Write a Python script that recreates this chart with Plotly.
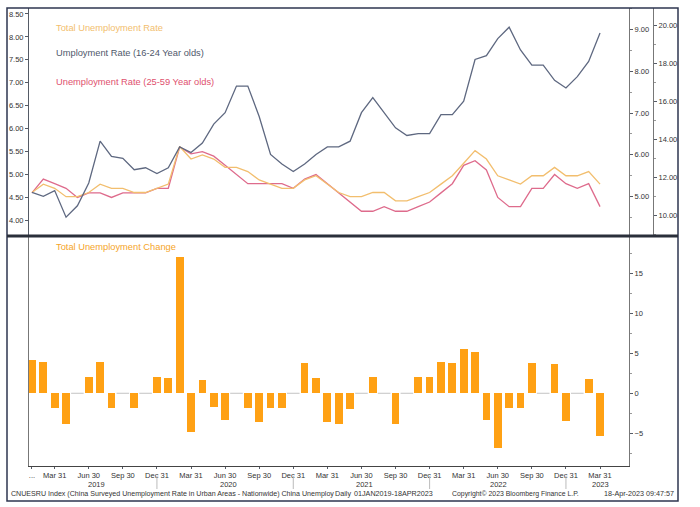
import plotly.graph_objects as go
import pandas as pd

# ---------------- data ----------------
months = [d.strftime("%b %Y") for d in pd.date_range("2019-01-31", "2023-03-31", freq="ME")]

total_rate = [5.1, 5.3, 5.2, 5.0, 5.0, 5.1, 5.3, 5.2, 5.2, 5.1, 5.1, 5.2,
              5.3, 6.2, 5.9, 6.0, 5.9, 5.7, 5.7, 5.6, 5.4, 5.3, 5.2, 5.2,
              5.4, 5.5, 5.3, 5.1, 5.0, 5.0, 5.1, 5.1, 4.9, 4.9, 5.0, 5.1,
              5.3, 5.5, 5.8, 6.1, 5.9, 5.5, 5.4, 5.3, 5.5, 5.5, 5.7, 5.5,
              5.5, 5.6, 5.3]

youth_rate = [11.2, 11.0, 11.3, 9.9, 10.5, 11.7, 13.9, 13.1, 13.0, 12.4, 12.5, 12.2,
              12.5, 13.6, 13.3, 13.8, 14.8, 15.4, 16.8, 16.8, 15.2, 13.2, 12.7, 12.3,
              12.7, 13.2, 13.6, 13.6, 13.9, 15.4, 16.2, 15.4, 14.6, 14.2, 14.3, 14.3,
              15.3, 15.3, 16.0, 18.2, 18.4, 19.3, 19.9, 18.7, 17.9, 17.9, 17.1, 16.7,
              17.3, 18.1, 19.6]

rate_25_59 = [4.6, 4.9, 4.8, 4.7, 4.5, 4.6, 4.6, 4.5, 4.6, 4.6, 4.6, 4.7,
              4.7, 5.6, 5.45, 5.5, 5.4, 5.2, 5.0, 4.8, 4.8, 4.8, 4.8, 4.7,
              4.9, 5.0, 4.8, 4.6, 4.4, 4.2, 4.2, 4.3, 4.2, 4.2, 4.3, 4.4,
              4.6, 4.8, 5.2, 5.3, 5.1, 4.5, 4.3, 4.3, 4.7, 4.7, 5.0, 4.8,
              4.7, 4.8, 4.3]

total_change = [4.1, 3.9, -1.9, -3.8, 0, 2.0, 3.9, -1.9, 0, -1.9, 0, 2.0,
                1.9, 17.0, -4.8, 1.7, -1.7, -3.4, 0, -1.8, -3.6, -1.9, -1.9, 0,
                3.8, 1.9, -3.6, -3.8, -2.0, 0, 2.0, 0, -3.9, 0, 2.0, 2.0,
                3.9, 3.8, 5.5, 5.2, -3.3, -6.8, -1.8, -1.9, 3.8, 0, 3.6, -3.5,
                0, 1.8, -5.4]

tick_months = [months[0]] + [m for m in months if m[:3] in ("Mar", "Jun", "Sep", "Dec")]
tick_labels = ["..."] + [{"Mar": "Mar 31", "Jun": "Jun 30", "Sep": "Sep 30", "Dec": "Dec 31"}[m[:3]]
                         for m in tick_months[1:]]
year_labels = ["2019", "2020", "2021", "2022", "2023"]
year_label_pos = [5.7, 17.3, 29.3, 41.1, 50.0]
year_breaks = ["Dec 2019", "Dec 2020", "Dec 2021", "Dec 2022"]

# ---------------- styling ----------------
FONT = "Liberation Sans, Arial, sans-serif"
YELLOW = "#F2BE6E"
SLATE = "#5E6880"
RED = "#DE6B8C"
ORANGE = "#FFA114"
TXT = "#333333"
AX = "#555b66"

W, H = 700, 507
L, R, T, B = 29, 47, 8, 41
pw, ph = W - L - R, H - T - B


def px_x(x):
    return (x - L) / pw


def px_y(y):
    return (H - B - y) / ph


xdom_end = px_x(629)
split = px_y(236)

fig = go.Figure()
fig.add_trace(go.Scatter(x=months, y=rate_25_59, mode="lines", yaxis="y", xaxis="x",
                         line=dict(color=RED, width=1.3), hoverinfo="skip"))
fig.add_trace(go.Scatter(x=months, y=total_rate, mode="lines", yaxis="y2", xaxis="x",
                         line=dict(color=YELLOW, width=1.3), hoverinfo="skip"))
fig.add_trace(go.Scatter(x=months, y=youth_rate, mode="lines", yaxis="y3", xaxis="x",
                         line=dict(color=SLATE, width=1.3), hoverinfo="skip"))
fig.add_trace(go.Bar(x=months, y=total_change, yaxis="y4", xaxis="x", hoverinfo="skip",
                     marker=dict(color=ORANGE, line=dict(width=0)), width=0.68))
zero_x = [m for m, v in zip(months, total_change) if v == 0]
fig.add_trace(go.Scatter(x=zero_x, y=[0] * len(zero_x), mode="markers", yaxis="y4", xaxis="x",
                         marker=dict(symbol="line-ew", size=9,
                                     line=dict(color="#c4c4c4", width=1)), hoverinfo="skip"))

tickfont = dict(family=FONT, size=7.5, color=TXT)

fig.update_layout(
    width=W, height=H,
    margin=dict(l=L, r=R, t=T, b=B),
    paper_bgcolor="white", plot_bgcolor="white",
    showlegend=False, hovermode=False,
    font=dict(family=FONT, color=TXT),
    bargap=0,
    xaxis=dict(domain=[0, xdom_end], anchor="y4", type="category",
               categoryorder="array", categoryarray=months,
               range=[-0.26, 52.55],
               tickmode="array", tickvals=tick_months, ticktext=tick_labels,
               ticks="outside", ticklen=2, tickcolor=AX, tickfont=tickfont,
               showline=True, linecolor="#444", linewidth=1, showgrid=False, zeroline=False),
    yaxis=dict(domain=[split, 1], anchor="x", range=[3.66, 8.63],
               tickvals=[4, 4.5, 5, 5.5, 6, 6.5, 7, 7.5, 8, 8.5], tickformat=".2f",
               ticks="outside", ticklen=3, tickcolor=AX, tickfont=tickfont,
               showline=True, linecolor=AX, linewidth=1, showgrid=False, zeroline=False),
    yaxis2=dict(overlaying="y", side="right", anchor="free", position=xdom_end,
                range=[4.06, 9.51], tickvals=[5, 6, 7, 8, 9], tickformat=".2f",
                ticks="outside", ticklen=3, tickcolor=AX, tickfont=tickfont,
                minor=dict(ticks="outside", ticklen=2, tickcolor="#999", dtick=0.5, tick0=0),
                showline=True, linecolor="#777", linewidth=1, showgrid=False, zeroline=False),
    yaxis3=dict(overlaying="y", side="right", anchor="free", position=1.0,
                range=[8.91, 20.91], tickvals=[10, 12, 14, 16, 18, 20], tickformat=".2f",
                ticks="outside", ticklen=3, tickcolor=AX, tickfont=tickfont,
                minor=dict(ticks="outside", ticklen=2, tickcolor="#999", dtick=1, tick0=0),
                showline=True, linecolor="#777", linewidth=1, showgrid=False, zeroline=False),
    yaxis4=dict(domain=[0, split], anchor="x", side="right", range=[-9.09, 19.66],
                tickvals=[-5, 0, 5, 10, 15], ticks="outside", ticklen=3, tickcolor=AX,
                tickfont=tickfont,
                minor=dict(ticks="outside", ticklen=2, tickcolor="#999", dtick=2.5, tick0=0),
                showline=True, mirror=True, linecolor="#777", linewidth=1,
                showgrid=False, zeroline=False),
)

shapes = []
# outer frame
shapes.append(dict(type="rect", xref="paper", yref="paper",
                   x0=px_x(7), x1=px_x(678), y0=px_y(501), y1=px_y(8),
                   line=dict(color="#2e3650", width=1.5), fillcolor="rgba(0,0,0,0)", layer="above"))
# panel divider
shapes.append(dict(type="line", xref="paper", yref="paper",
                   x0=px_x(7), x1=px_x(678), y0=split, y1=split,
                   line=dict(color="#2a2f3a", width=3), layer="above"))
# year separators
for m in year_breaks:
    shapes.append(dict(type="line", xref="x", yref="paper", x0=m, x1=m,
                       y0=px_y(476), y1=px_y(489), line=dict(color="#bbbbbb", width=1)))
fig.update_layout(shapes=shapes)

ann = []
legend_items = [("Total Unemployment Rate", YELLOW, 28),
                ("Umployment Rate (16-24 Year olds)", "#4f586b", 53),
                ("Unemployment Rate (25-59 Year olds)", "#E0506E", 82),
                ("Total Unemployment Change", "#F5A52A", 247)]
for text, col, y in legend_items:
    ann.append(dict(text=text, xref="paper", yref="paper", x=px_x(54), y=px_y(y),
                    xanchor="left", yanchor="middle", showarrow=False,
                    font=dict(family=FONT, size=9.3, color=col)))
for lab, pos in zip(year_labels, year_label_pos):
    ann.append(dict(text=lab, xref="x", yref="paper", x=pos, y=px_y(484),
                    xanchor="center", yanchor="middle", showarrow=False,
                    font=dict(family=FONT, size=7.5, color=TXT)))


def foot(size):
    return dict(family=FONT, size=size, color=TXT)


ann.append(dict(text="CNUESRU Index (China Surveyed Unemployment Rate in Urban Areas - Nationwide) China Unemploy",
                xref="paper", yref="paper", x=px_x(9), y=px_y(494), xanchor="left", yanchor="middle",
                showarrow=False, font=foot(7.1)))
ann.append(dict(text="Daily", xref="paper", yref="paper", x=px_x(333), y=px_y(494), xanchor="left",
                yanchor="middle", showarrow=False, font=foot(7.2)))
ann.append(dict(text="01JAN2019-18APR2023", xref="paper", yref="paper", x=px_x(352), y=px_y(494),
                xanchor="left", yanchor="middle", showarrow=False, font=foot(7.2)))
ann.append(dict(text="Copyright\u00a9 2023 Bloomberg Finance L.P.", xref="paper", yref="paper",
                x=px_x(515), y=px_y(494), xanchor="center", yanchor="middle", showarrow=False, font=foot(6.9)))
ann.append(dict(text="18-Apr-2023 09:47:57", xref="paper", yref="paper", x=px_x(676), y=px_y(494),
                xanchor="right", yanchor="middle", showarrow=False, font=foot(7.2)))
fig.update_layout(annotations=ann)

fig.write_html("out.html", config={"displayModeBar": False},
               post_script="document.body.style.margin='0';")
